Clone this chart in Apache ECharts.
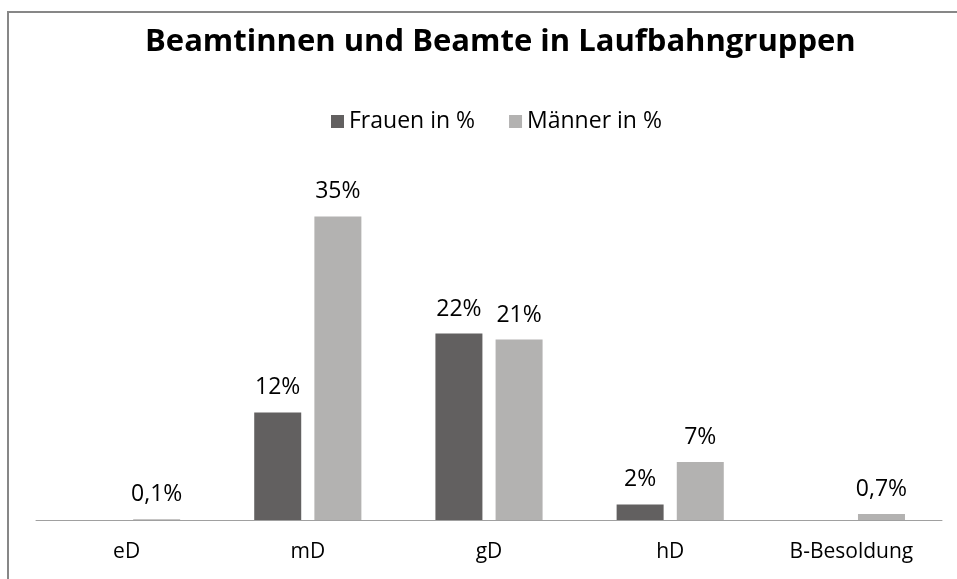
<!DOCTYPE html>
<html>
<head>
<meta charset="utf-8">
<script src="https://cdn.jsdelivr.net/npm/echarts@6/dist/echarts.min.js"></script>
<style>
html,body{margin:0;padding:0;background:#fff;}
#chart{width:957px;height:579px;}
</style>
</head>
<body>
<div id="chart"></div>
<script>
const categories = ['eD', 'mD', 'gD', 'hD', 'B-Besoldung'];
const frauen = [null, 12.4, 21.5, 1.8, null];
const maenner = [0.1, 35.0, 20.8, 6.7, 0.7];
const seriesNames = ['Frauen in %', 'Männer in %'];

function fmt(v) {
  if (v < 1) return v.toFixed(1).replace('.', ',') + '%';
  return Math.round(v) + '%';
}

const FONT = '"Open Sans"';
const chart = echarts.init(document.getElementById('chart'), null, {renderer: 'canvas'});
const labelCfg = {
  show: true,
  position: 'top',
  distance: 13,
  fontFamily: FONT,
  fontSize: 23,
  color: '#000',
  formatter: p => fmt(p.value)
};
chart.setOption({
  animation: false,
  backgroundColor: '#fff',
  title: {
    text: 'Beamtinnen und Beamte in Laufbahngruppen',
    left: 140,
    top: 22,
    textStyle: {fontFamily: FONT, fontSize: 31, fontWeight: 'bold', color: '#000'}
  },
  legend: {
    top: 105,
    left: 326,
    itemWidth: 13,
    itemHeight: 13,
    itemGap: 34,
    itemStyle: {borderWidth: 0},
    icon: 'rect',
    textStyle: {fontFamily: FONT, fontSize: 23, color: '#000'},
    data: seriesNames
  },
  graphic: [{
    type: 'rect',
    shape: {x: 8, y: 12, width: 1200, height: 1200},
    style: {fill: 'none', stroke: '#878787', lineWidth: 2},
    silent: true
  }],
  grid: {left: 36, right: 15, top: 173, bottom: 59, containLabel: false},
  xAxis: {
    type: 'category',
    data: categories,
    axisLine: {lineStyle: {color: '#a0a0a0', width: 1}},
    axisTick: {show: false},
    axisLabel: {fontFamily: FONT, fontSize: 21, color: '#000', margin: 22}
  },
  yAxis: {
    type: 'value',
    min: 0,
    max: 40,
    show: false,
    splitLine: {show: false}
  },
  series: [
    {
      name: seriesNames[0],
      type: 'bar',
      data: frauen,
      barWidth: 47,
      barGap: '28%',
      itemStyle: {color: '#626060'},
      label: labelCfg
    },
    {
      name: seriesNames[1],
      type: 'bar',
      data: maenner,
      barWidth: 47,
      itemStyle: {color: '#b3b2b1'},
      label: labelCfg
    }
  ]
});
</script>
</body>
</html>
